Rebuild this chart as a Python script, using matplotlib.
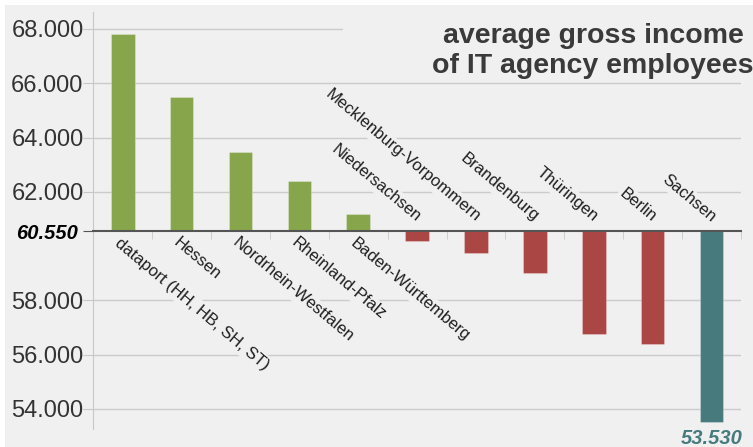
import numpy as np
import matplotlib.pyplot as plt
from matplotlib.patches import Rectangle

plt.rcParams['font.family'] = ['Liberation Sans', 'DejaVu Sans']

# data
regions = ['dataport (HH, HB, SH, ST)', 'Hessen', 'Nordrhein-Westfalen',
           'Rheinland-Pfalz', 'Baden-Württemberg', 'Niedersachsen',
           'Mecklenburg-Vorpommern', 'Brandenburg', 'Thüringen', 'Berlin',
           'Sachsen']
income = [67800, 65500, 63450, 62400, 61200, 60200, 59750, 59000, 56750,
          56400, 53530]
average = 60550
yticks = [54000, 56000, 58000, 60550, 62000, 64000, 66000, 68000]
title = 'average gross income\nof IT agency employees'

def dotted(v):
    return f'{v:,}'.replace(',', '.')

bg = '#f0f0f0'
green, red, teal = '#87a54b', '#aa4644', '#467a7d'

W, H = 753, 447
fig = plt.figure(figsize=(W / 100, H / 100), dpi=100, facecolor='white')
fig.add_artist(Rectangle((5 / W, 0), 1, (H - 5) / H, transform=fig.transFigure,
                         facecolor=bg, edgecolor='none', zorder=-1))

ax = fig.add_axes([93.3 / W, 18 / H, (741 - 93.3) / W, (429 - 11.7) / H])
ax.patch.set_visible(False)

x = np.arange(len(regions))
vals = np.array(income)
lo = int(np.argmin(vals))
colors = [green if v >= average else red for v in vals]
colors[lo] = teal
ax.bar(x, vals - average, bottom=average, width=0.4, color=colors,
       edgecolor=(1, 1, 1, 0.25), linewidth=0.8, zorder=3)

ax.set_xlim(-0.5, len(regions) - 0.5)
ax.set_ylim(53263, 68637)

# axes look
for s in ['top', 'right']:
    ax.spines[s].set_visible(False)
ax.spines['left'].set_color('#c8c8c8')
ax.spines['bottom'].set_position(('data', average))
ax.spines['bottom'].set_color('#555555')
ax.spines['bottom'].set_linewidth(1.5)
ax.spines['bottom'].set_zorder(4)

ax.set_yticks(yticks, [dotted(v) for v in yticks])
ax.tick_params(axis='y', length=7, color='#c8c8c8', labelsize=17,
               labelcolor='#333333', pad=0)
ax.yaxis.grid(True, color='#cbcbcb', lw=1)
ax.set_axisbelow(True)

tk = ax.yaxis.get_major_ticks()[yticks.index(average)]
tk.tick1line.set_markeredgecolor('#555555')
tk.tick1line.set_markeredgewidth(1.5)
tk.gridline.set_visible(False)
tk.set_pad(4)
tk.label1.set_fontweight('bold')
tk.label1.set_fontstyle('italic')
tk.label1.set_fontsize(14.5)
tk.label1.set_color('black')

ax.set_xticks([])
ax.set_xticks(x + 0.5, minor=True)
ax.tick_params(axis='x', which='minor', length=6, color='#c8c8c8')

# category labels
box = dict(boxstyle='square,pad=0.12', fc=bg, ec='none')
for i, (name, v) in enumerate(zip(regions, income)):
    if v >= average:
        ax.annotate(name, (i, average), xytext=(-1, -4), textcoords='offset pixels',
                    rotation=-40, rotation_mode='anchor', ha='left', va='top',
                    fontsize=12, color='#1e1e1e', bbox=box, zorder=5)
    else:
        ax.annotate(name, (i, average), xytext=(-1, 9), textcoords='offset pixels',
                    rotation=-40, rotation_mode='anchor', ha='right', va='baseline',
                    fontsize=12, color='#1e1e1e', bbox=box, zorder=5)

ax.annotate(dotted(income[lo]), (lo, income[lo]), xytext=(0, -7),
            textcoords='offset pixels', ha='center', va='top', fontsize=14.5,
            fontweight='bold', fontstyle='italic', color=teal,
            annotation_clip=False)

# title with its own background over the grid
fig.add_artist(Rectangle((343 / W, (H - 78) / H), 1, 73 / H,
                         transform=fig.transFigure, facecolor=bg,
                         edgecolor='none', zorder=1))
fig.text(593 / W, 1 - 73 / H, title, ha='center', va='baseline', fontsize=20.5,
         fontweight='bold', color='#3a3a3a', linespacing=1.2, zorder=2)

fig.savefig('out.png', dpi=100, facecolor=fig.get_facecolor())
